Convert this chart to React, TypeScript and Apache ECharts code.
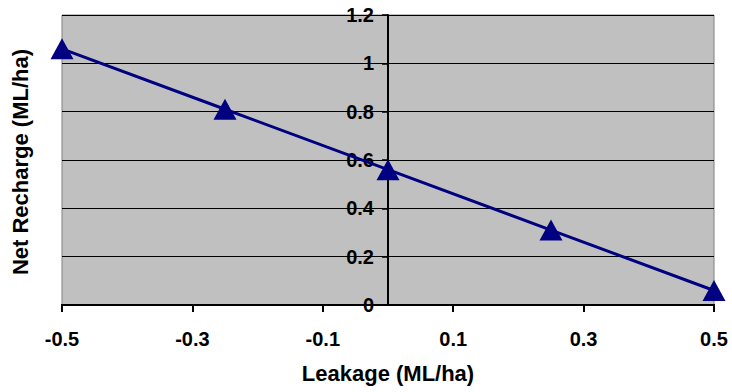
import React, { useEffect, useRef } from "react";
import * as echarts from "echarts";

const leakage = [-0.5, -0.25, 0, 0.25, 0.5];
const netRecharge = [1.06, 0.81, 0.56, 0.31, 0.06];
const xTickValues = [-0.5, -0.3, -0.1, 0.1, 0.3, 0.5];
const xTickStep = 0.2;
const yMin = 0;
const yMax = 1.2;
const yInterval = 0.2;
const xTitle = "Leakage (ML/ha)";
const yTitle = "Net Recharge (ML/ha)";

const FONT = '"Liberation Sans", Arial, sans-serif';

export default function App() {
  const ref = useRef<HTMLDivElement>(null);
  useEffect(() => {
    if (!ref.current) return;
    const chart = echarts.init(ref.current, null, { renderer: "svg" });
    const labelStyle = {
      color: "#000",
      fontSize: 20,
      fontWeight: "bold" as const,
      fontFamily: FONT,
    };
    const xMin = xTickValues[0];
    const xMax = xTickValues[xTickValues.length - 1];
    chart.setOption({
      animation: false,
      backgroundColor: "#fff",
      grid: {
        left: 62,
        top: 15,
        right: 18,
        bottom: 87,
        show: true,
        backgroundColor: "#c0c0c0",
        borderColor: "#808080",
        borderWidth: 1,
        containLabel: false,
      },
      xAxis: [
        {
          type: "value",
          min: xMin,
          max: xMax,
          position: "bottom",
          axisLine: { show: true, onZero: false, lineStyle: { color: "#000", width: 2 } },
          axisTick: { show: false },
          axisLabel: {
            ...labelStyle,
            customValues: xTickValues,
            margin: 24,
            formatter: (v: number) => v.toFixed(1),
          },
          splitLine: { show: false },
          name: xTitle,
          nameLocation: "middle",
          nameGap: 57,
          nameTextStyle: { color: "#000", fontSize: 22, fontWeight: "bold", fontFamily: FONT },
          z: 10,
        },
        {
          // tick-only helper axis: same span as the data axis, counted from 0
          type: "value",
          min: 0,
          max: xMax - xMin,
          interval: xTickStep,
          position: "bottom",
          offset: 0,
          axisLine: { show: true, onZero: false, lineStyle: { color: "#000", width: 2 } },
          axisTick: { show: true, inside: false, length: 7, lineStyle: { color: "#000", width: 2 } },
          axisLabel: { show: false },
          splitLine: { show: false },
          z: 10,
        },
      ],
      yAxis: {
        type: "value",
        position: "left",
        offset: -326,
        min: yMin,
        max: yMax,
        interval: yInterval,
        axisLine: { show: true, onZero: false, lineStyle: { color: "#000", width: 2 } },
        axisTick: { show: true, length: 6, lineStyle: { color: "#000", width: 1.5 } },
        axisLabel: {
          ...labelStyle,
          margin: 14,
          padding: [5, 0, 0, 0],
          formatter: (v: number) => String(Math.round(v * 10) / 10),
        },
        splitLine: { show: true, lineStyle: { color: "#000", width: 1 } },
      },
      graphic: [
        {
          type: "text",
          x: 20,
          y: 162,
          rotation: Math.PI / 2,
          style: {
            text: yTitle,
            font: `bold 22px ${FONT}`,
            fill: "#000",
            align: "center",
            verticalAlign: "middle",
            textAlign: "center",
            textVerticalAlign: "middle",
          },
        },
      ],
      series: [
        {
          type: "line",
          xAxisIndex: 0,
          data: leakage.map((x, i) => [x, netRecharge[i]]),
          symbol: "triangle",
          symbolSize: [23, 21],
          showAllSymbol: true,
          lineStyle: { color: "#000080", width: 3 },
          itemStyle: { color: "#000080" },
          z: 5,
        },
      ],
    });
    return () => chart.dispose();
  }, []);
  return (
    <div
      ref={ref}
      style={{ position: "fixed", left: 0, top: 0, width: 732, height: 392 }}
    />
  );
}
